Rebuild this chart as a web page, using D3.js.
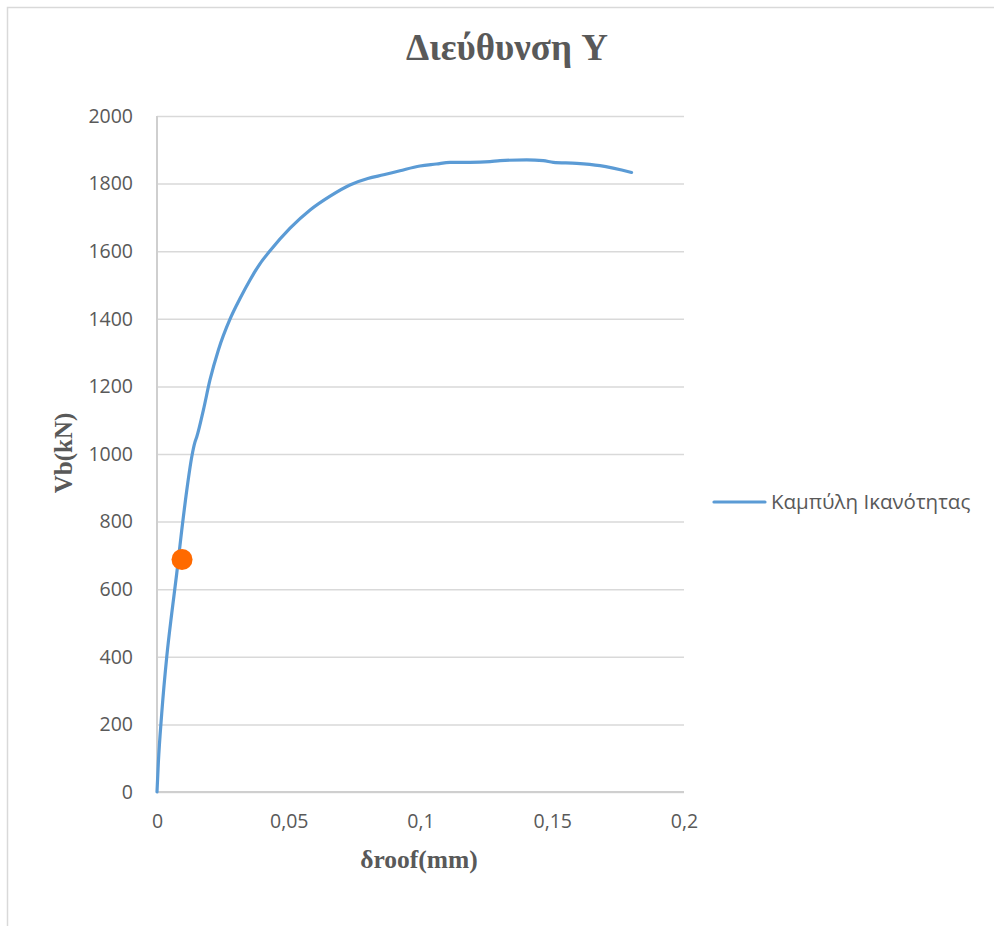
<!DOCTYPE html>
<html>
<head>
<meta charset="utf-8">
<script src="https://cdn.jsdelivr.net/npm/d3@7"></script>
<style>
  html, body { margin: 0; padding: 0; background: #fff; }
  svg { display: block; }
</style>
</head>
<body>
<svg id="chart" width="994" height="926"></svg>
<script>
// Capacity curve: roof displacement (mm) vs base shear (kN)
const droof = [0, 0.0005, 0.0018, 0.0037, 0.0056, 0.0075, 0.0094, 0.0113, 0.0132, 0.0144,
  0.0151, 0.0176, 0.0201, 0.0233, 0.0277, 0.0315, 0.0353, 0.0390, 0.0429, 0.0505,
  0.0581, 0.0657, 0.0732, 0.0800, 0.0860, 0.0922, 0.0998, 0.1060, 0.1112, 0.1188,
  0.1264, 0.1302, 0.1403, 0.1466, 0.1504, 0.1593, 0.1681, 0.1801];
const vb = [0, 85, 233, 400, 529, 647, 775, 893, 992, 1035,
  1051, 1130, 1219, 1308, 1399, 1460, 1515, 1562, 1601, 1668,
  1722, 1763, 1796, 1815, 1826, 1838, 1852, 1858, 1863, 1863,
  1865, 1868, 1870, 1868, 1863, 1860, 1853, 1833];

// Highlighted performance point
const pointX = [0.0095];
const pointY = [688];

const xTicks = [0, 0.05, 0.1, 0.15, 0.2];
const yTicks = [0, 200, 400, 600, 800, 1000, 1200, 1400, 1600, 1800, 2000];

const titleText = "Διεύθυνση Y";
const xLabel = "δroof(mm)";
const yLabel = "Vb(kN)";
const seriesName = "Καμπύλη Ικανότητας";

const svg = d3.select("#chart");
const grey = "#595959";
const sans = "'Open Sans', 'Noto Sans', sans-serif";
const serif = "'Liberation Serif', 'DejaVu Serif', serif";

// chart frame
svg.append("rect")
  .attr("x", 7.5).attr("y", 7.5)
  .attr("width", 1000).attr("height", 1000)
  .attr("fill", "#fff").attr("stroke", "#d9d9d9").attr("stroke-width", 1.5);

const x = d3.scaleLinear().domain([0, 0.2]).range([157, 684]);
const y = d3.scaleLinear().domain([0, 2000]).range([792, 116]);

// horizontal gridlines and value labels
const yAxis = d3.axisLeft(y).tickValues(yTicks).tickSize(-(684 - 157)).tickPadding(24)
  .tickFormat(d => d);
const gy = svg.append("g").attr("transform", "translate(157,0)").call(yAxis);
gy.select(".domain").remove();
gy.selectAll(".tick line").attr("stroke", "#d9d9d9").attr("stroke-width", 1.5);
gy.selectAll(".tick text").attr("fill", grey).attr("font-family", sans).attr("font-size", 19.5);

const xAxis = d3.axisBottom(x).tickValues(xTicks).tickSize(0).tickPadding(22)
  .tickFormat(d => String(d).replace(".", ","));
const gx = svg.append("g").attr("transform", "translate(0,792)").call(xAxis);
gx.select(".domain").remove();
gx.selectAll(".tick text").attr("fill", grey).attr("font-family", sans).attr("font-size", 19.5);

// axis lines
svg.append("line").attr("x1", x(0)).attr("x2", x(0)).attr("y1", y(2000)).attr("y2", y(0))
  .attr("stroke", "#cfcfcf").attr("stroke-width", 2);
svg.append("line").attr("x1", x(0)).attr("x2", x(0.2)).attr("y1", y(0)).attr("y2", y(0))
  .attr("stroke", "#cfcfcf").attr("stroke-width", 2);

// capacity curve
const pts = droof.map((d, i) => [d, vb[i]]);
const line = d3.line().x(d => x(d[0])).y(d => y(d[1])).curve(d3.curveMonotoneX);
svg.append("path").datum(pts)
  .attr("d", line)
  .attr("fill", "none")
  .attr("stroke", "#5b9bd5")
  .attr("stroke-width", 3.2)
  .attr("stroke-linejoin", "round")
  .attr("stroke-linecap", "round");

// performance point
svg.selectAll("circle.pp").data(pointX.map((d, i) => [d, pointY[i]]))
  .enter().append("circle").attr("class", "pp")
  .attr("cx", d => x(d[0])).attr("cy", d => y(d[1]))
  .attr("r", 10.5).attr("fill", "#ff6a00");

// title
svg.append("text").attr("x", 507).attr("y", 60).attr("text-anchor", "middle")
  .attr("font-family", serif).attr("font-weight", "bold").attr("font-size", 37)
  .attr("fill", grey).text(titleText);

// axis titles
svg.append("text").attr("x", 419).attr("y", 868).attr("text-anchor", "middle")
  .attr("font-family", serif).attr("font-weight", "bold").attr("font-size", 25.5)
  .attr("fill", grey).text(xLabel);
svg.append("text").attr("transform", "translate(72,453) rotate(-90)").attr("text-anchor", "middle")
  .attr("font-family", serif).attr("font-weight", "bold").attr("font-size", 25)
  .attr("fill", grey).text(yLabel);

// legend
svg.append("line").attr("x1", 714).attr("x2", 765).attr("y1", 502).attr("y2", 502)
  .attr("stroke", "#5b9bd5").attr("stroke-width", 3.2).attr("stroke-linecap", "round");
svg.append("text").attr("x", 771).attr("y", 509).attr("font-family", sans).attr("font-size", 20.5)
  .attr("fill", grey).text(seriesName);
</script>
</body>
</html>
